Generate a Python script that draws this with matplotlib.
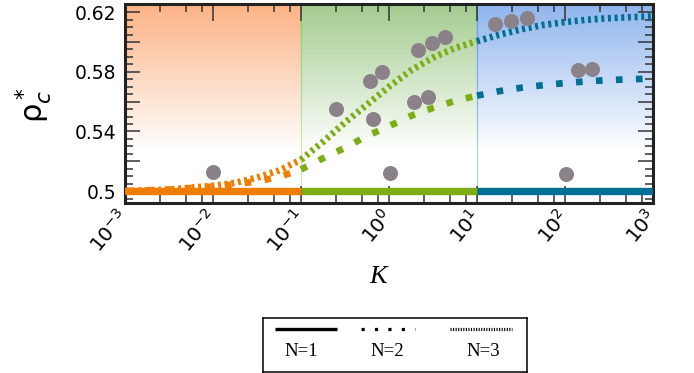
import matplotlib
matplotlib.use("Agg")
import matplotlib.pyplot as plt
import numpy as np
from matplotlib.ticker import MultipleLocator, LogLocator, NullFormatter

##Data
logK = [-3, -2.5, -2, -1.75, -1.5, -1.25, -1, -0.75, -0.5, -0.25, 0, 0.25, 0.5,
        0.75, 1, 1.25, 1.5, 1.75, 2, 2.25, 2.5, 2.75, 3]
rho_N1 = [0.5] * len(logK)
rho_N2 = [0.5, 0.501, 0.503, 0.5045, 0.5065, 0.5095, 0.5145, 0.522, 0.529, 0.537,
          0.5435, 0.5505, 0.5558, 0.5605, 0.564, 0.567, 0.5693, 0.571, 0.5725,
          0.5736, 0.5745, 0.575, 0.5755]
rho_N3 = [0.5, 0.501, 0.5035, 0.5055, 0.509, 0.5138, 0.521, 0.533, 0.546, 0.558,
          0.570, 0.581, 0.5895, 0.596, 0.6005, 0.6048, 0.6085, 0.6114, 0.6134,
          0.6149, 0.616, 0.6167, 0.6172]

#simulation points (grey circles)
sim_K = [0.01, 0.25, 0.61, 0.66, 0.83, 1.04, 1.92, 2.15, 2.8, 3.05, 4.33,
         16.2, 24.3, 36.7, 103, 139, 204]
sim_rho = [0.513, 0.5548, 0.5738, 0.5481, 0.5797, 0.5119, 0.560, 0.5946, 0.5633,
           0.5991, 0.6036, 0.6121, 0.6141, 0.6159, 0.5114, 0.5812, 0.5819]

regions = [1e-3, 1e-1, 1e1, 1e3]
line_colors = ["#ef7d00", "#7dac14", "#006f94"]
shade_colors = [(0.99, 0.70, 0.52), (0.64, 0.80, 0.56), (0.56, 0.71, 0.93)]

xticks = [1e-3, 1e-2, 1e-1, 1e0, 1e1, 1e2, 1e3]
xticklabels = [r"$10^{-3}$", r"$10^{-2}$", r"$10^{-1}$", r"$10^{0}$",
               r"$10^{1}$", r"$10^{2}$", r"$10^{3}$"]
yticks = [0.5, 0.52, 0.54, 0.56, 0.58, 0.60, 0.62]
yticklabels = ["0.5", "", "0.54", "", "0.58", "", "0.62"]

ylo, yhi = 0.492, 0.6255

##Figure
plt.rcParams["font.family"] = "DejaVu Sans"
fig = plt.figure(figsize=(6.94, 3.73), dpi=100)
ax = fig.add_axes([0.1801, 0.4558, 0.7608, 0.5335])
ax.set_xscale("log")

#gradient backgrounds, full colour at the top fading to white
rows = np.linspace(ylo, yhi, 256)
t = np.clip((rows - 0.526) / (yhi - 0.526), 0, 1)[:, None, None]
for i in range(3):
    c = np.array(shade_colors[i])[None, None, :]
    img = (1 - t) + t * c
    lo = regions[i] * (0.97 if i > 0 else 1)
    ax.imshow(img, extent=[lo, regions[i + 1], ylo, yhi], origin="lower",
              aspect="auto", zorder=0, interpolation="bilinear")
    if i > 0:
        ax.axvline(regions[i], color=line_colors[i], lw=0.8, alpha=0.35, zorder=1)

K = 10.0 ** np.array(logK)
n1, n2, n3 = np.array(rho_N1), np.array(rho_N2), np.array(rho_N3)
for i in range(3):
    m = (K >= regions[i] * 0.999) & (K <= regions[i + 1] * 1.001)
    col = line_colors[i]
    ax.plot(K[m], n1[m], color=col, lw=5.3, solid_capstyle="butt", zorder=3)
    ax.plot(K[m], n2[m], color=col, lw=4.8, linestyle=(0, (1, 2)),
            dash_capstyle="butt", zorder=3)
    ax.plot(K[m], n3[m], color=col, lw=4.8, linestyle=(0, (0.45, 0.55)),
            dash_capstyle="butt", zorder=3)

ax.plot(sim_K, sim_rho, "o", color="#8a8189", ms=10.8, mec="none", zorder=4)

ax.set_xlim(1e-3, 1e3)
ax.set_ylim(ylo, yhi)

##Ticks and labels
ax.set_xticks(xticks)
ax.set_xticklabels(xticklabels, rotation=50, ha="right", va="center",
                   rotation_mode="anchor", fontsize=14.5)
ax.xaxis.set_minor_locator(LogLocator(base=10, subs=[2.5, 5, 7.5], numticks=20))
ax.xaxis.set_minor_formatter(NullFormatter())
ax.set_yticks(yticks)
ax.set_yticklabels(yticklabels, fontsize=13.5)
ax.yaxis.set_minor_locator(MultipleLocator(0.005))

ax.tick_params(which="both", direction="in", top=True, right=True,
               color="#333333", width=1.1)
ax.tick_params(axis="x", which="major", length=12, pad=7)
ax.tick_params(axis="x", which="minor", length=6)
ax.tick_params(axis="y", which="major", length=11, pad=6)
ax.tick_params(axis="y", which="minor", length=5.5)

for s in ax.spines.values():
    s.set_linewidth(2.2)
    s.set_color("#222222")

ax.set_ylabel(r"$\mathrm{\rho}^*_c$", fontsize=22)
ax.yaxis.set_label_coords(-0.135, 0.49)
ax.set_xlabel("K", fontsize=19, family="Liberation Serif", style="italic")
ax.xaxis.set_label_coords(0.479, -0.315)

##Legend box drawn by hand (labels under the line samples)
lax = fig.add_axes([0.379, 0.0027, 0.380, 0.145])
lax.set_xlim(0, 1)
lax.set_ylim(0, 1)
lax.set_xticks([])
lax.set_yticks([])
for s in lax.spines.values():
    s.set_linewidth(1.1)
lax.plot([0.045, 0.28], [0.79, 0.79], color="black", lw=2.4, solid_capstyle="butt")
lax.plot([0.371, 0.576], [0.79, 0.79], color="black", lw=2.3,
         linestyle=(0, (1, 3.2)), dash_capstyle="butt")
lax.plot([0.708, 0.943], [0.79, 0.79], color="black", lw=2.3,
         linestyle=(0, (0.35, 0.45)), dash_capstyle="butt")
for xc, lab in zip([0.144, 0.473, 0.837], ["N=1", "N=2", "N=3"]):
    lax.text(xc, 0.38, lab, ha="center", va="center", fontsize=13.5,
             family="Liberation Serif")

fig.savefig("out.png", dpi=100)
